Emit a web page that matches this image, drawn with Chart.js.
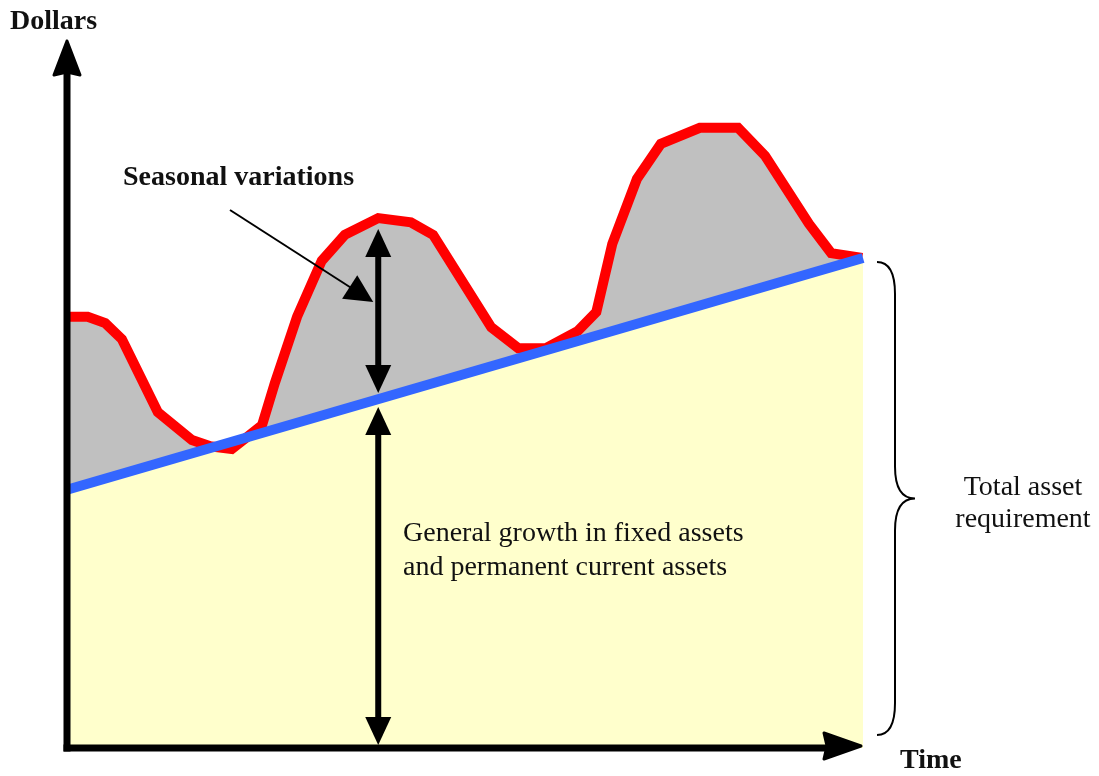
<!DOCTYPE html>
<html>
<head>
<meta charset="utf-8">
<script src="https://cdn.jsdelivr.net/npm/chart.js@4.4.1/dist/chart.umd.min.js"></script>
<style>
  html, body { margin: 0; padding: 0; background: #ffffff; }
  canvas { display: block; }
</style>
</head>
<body>
<canvas id="assets" width="1099" height="776"></canvas>
<script>
// Total assets over time (permanent level plus seasonal swings)
const seasonalTime = [0, 2.6, 4.8, 6.9, 11.4, 15.7, 18.0, 20.7, 24.5, 26.1, 28.9, 32.0, 34.9, 39.1,
  43.2, 46.0, 53.3, 56.7, 60.1, 64.2, 66.5, 68.5, 71.6, 74.6, 79.5, 84.3, 87.7, 93.2, 96.0, 99.9];
const totalAssets = [61.6, 61.6, 60.7, 58.4, 48.0, 44.0, 43.1, 42.7, 46.1, 52.1, 61.6, 69.6, 73.3, 75.7,
  75.1, 73.3, 60.1, 57.1, 57.1, 59.6, 62.3, 72.0, 81.3, 86.3, 88.6, 88.6, 84.6, 74.9, 70.7, 70.0];

// Permanent (fixed + permanent current) assets: straight growth trend
const trendTime = [0, 100];
const permanentAssets = [36.9, 70.0];

// Where the seasonal / permanent measurement arrows are placed
const measureTime = 39.1;
const measurePeak = 75.7;

const axisLabels = { y: 'Dollars', x: 'Time' };
const seasonalLabel = 'Seasonal variations';
const growthLabel = ['General growth in fixed assets', 'and permanent current assets'];
const braceLabel = ['Total asset', 'requirement'];

const serif = '"Liberation Serif", "Times New Roman", serif';

function zip(xs, ys) { return xs.map((v, i) => ({ x: v, y: ys[i] })); }

function permanentAt(t) {
  const t0 = trendTime[0], t1 = trendTime[trendTime.length - 1];
  const v0 = permanentAssets[0], v1 = permanentAssets[permanentAssets.length - 1];
  return v0 + (v1 - v0) * (t - t0) / (t1 - t0);
}

// Filled arrow head; (tx,ty) tip, (dx,dy) unit direction of travel
function head(ctx, tx, ty, dx, dy, len, half) {
  const bx = tx - dx * len, by = ty - dy * len;
  const nx = -dy, ny = dx;
  ctx.beginPath();
  ctx.moveTo(tx, ty);
  ctx.lineTo(bx + nx * half, by + ny * half);
  ctx.lineTo(bx - nx * half, by - ny * half);
  ctx.closePath();
  ctx.fill();
}

function doubleArrow(ctx, x, yTop, yBot) {
  ctx.lineWidth = 6;
  ctx.beginPath();
  ctx.moveTo(x, yTop + 20);
  ctx.lineTo(x, yBot - 20);
  ctx.stroke();
  head(ctx, x, yTop, 0, -1, 28, 13);
  head(ctx, x, yBot, 0, 1, 28, 13);
}

const diagram = {
  id: 'diagram',
  afterDatasetsDraw(chart) {
    const { ctx, chartArea: a, scales: { x, y } } = chart;
    const x0 = x.getPixelForValue(0);
    const y0 = y.getPixelForValue(0);
    ctx.save();
    ctx.fillStyle = '#000';
    ctx.strokeStyle = '#000';
    ctx.lineCap = 'butt';

    // axes
    ctx.lineWidth = 7;
    ctx.beginPath();
    ctx.moveTo(x0, y0 + 3.5);
    ctx.lineTo(x0, 70);
    ctx.stroke();
    ctx.lineJoin = 'round';
    ctx.lineWidth = 3;
    ctx.beginPath();
    ctx.moveTo(x0, 41); ctx.lineTo(x0 - 13, 75); ctx.lineTo(x0, 72); ctx.lineTo(x0 + 13, 75); ctx.closePath();
    ctx.fill(); ctx.stroke();

    ctx.lineWidth = 7;
    ctx.beginPath();
    ctx.moveTo(x0 - 3.5, y0);
    ctx.lineTo(a.right - 35, y0);
    ctx.stroke();
    ctx.lineWidth = 3;
    const tipX = a.right - 2, tipY = y0 - 2;
    ctx.beginPath();
    ctx.moveTo(tipX, tipY); ctx.lineTo(tipX - 37, tipY - 13); ctx.lineTo(tipX - 34, tipY); ctx.lineTo(tipX - 37, tipY + 13); ctx.closePath();
    ctx.fill(); ctx.stroke();

    // measurement arrows at the first seasonal peak
    const mx = x.getPixelForValue(measureTime);
    const yPeak = y.getPixelForValue(measurePeak);
    const yPerm = y.getPixelForValue(permanentAt(measureTime));
    doubleArrow(ctx, mx, yPeak + 11, yPerm - 6);
    doubleArrow(ctx, mx, yPerm + 8, y0 - 3);

    // pointer from the seasonal label
    const px = mx - 5, py = yPeak + 84;
    const sx = 230, sy = 210;
    let dx = px - sx, dy = py - sy;
    const d = Math.hypot(dx, dy); dx /= d; dy /= d;
    ctx.lineWidth = 2;
    ctx.beginPath();
    ctx.moveTo(sx, sy);
    ctx.lineTo(px - dx * 20, py - dy * 20);
    ctx.stroke();
    head(ctx, px, py, dx, dy, 28, 14);

    // brace spanning the total requirement
    const bTop = y.getPixelForValue(permanentAt(trendTime[trendTime.length - 1])) + 4;
    const bBot = y0 - 13;
    const bMid = (bTop + bBot) / 2;
    const bx0 = a.right + 14, bx1 = a.right + 32, bx2 = a.right + 52;
    ctx.lineWidth = 2;
    ctx.lineJoin = 'miter';
    ctx.beginPath();
    ctx.moveTo(bx0, bTop);
    ctx.quadraticCurveTo(bx1, bTop, bx1, bTop + 32);
    ctx.lineTo(bx1, bMid - 32);
    ctx.quadraticCurveTo(bx1, bMid, bx2, bMid);
    ctx.quadraticCurveTo(bx1, bMid, bx1, bMid + 32);
    ctx.lineTo(bx1, bBot - 32);
    ctx.quadraticCurveTo(bx1, bBot, bx0, bBot);
    ctx.stroke();

    // text
    ctx.fillStyle = '#111';
    ctx.textBaseline = 'alphabetic';
    ctx.textAlign = 'left';
    ctx.font = 'bold 28px ' + serif;
    ctx.fillText(axisLabels.y, 10, 29);
    ctx.fillText(axisLabels.x, 900, 768);
    ctx.fillText(seasonalLabel, 123, 185);

    ctx.font = '28px ' + serif;
    ctx.fillText(growthLabel[0], 403, 541);
    ctx.fillText(growthLabel[1], 403, 575);

    ctx.textAlign = 'center';
    ctx.fillText(braceLabel[0], 1023, 495);
    ctx.fillText(braceLabel[1], 1023, 527);
    ctx.restore();
  }
};

new Chart(document.getElementById('assets'), {
  type: 'line',
  data: {
    datasets: [
      {
        label: 'Permanent assets',
        data: zip(trendTime, permanentAssets),
        borderColor: '#3366FF',
        borderWidth: 10,
        pointRadius: 0,
        tension: 0,
        fill: { target: 'origin', above: '#FFFFCC', below: '#FFFFCC' },
        clip: false
      },
      {
        label: 'Total assets',
        data: zip(seasonalTime, totalAssets),
        borderColor: '#FF0000',
        borderWidth: 10,
        pointRadius: 0,
        tension: 0,
        fill: { target: 0, above: '#C0C0C0', below: '#FFFFCC' },
        clip: false
      }
    ]
  },
  options: {
    responsive: false,
    animation: false,
    devicePixelRatio: 1,
    layout: { padding: { left: 67, right: 236, top: 48, bottom: 28 } },
    scales: {
      x: { type: 'linear', min: 0, max: 100, display: false },
      y: { type: 'linear', min: 0, max: 100, display: false }
    },
    plugins: {
      legend: { display: false },
      tooltip: { enabled: false },
      filler: { drawTime: 'beforeDatasetsDraw' }
    }
  },
  plugins: [diagram]
});
</script>
</body>
</html>
